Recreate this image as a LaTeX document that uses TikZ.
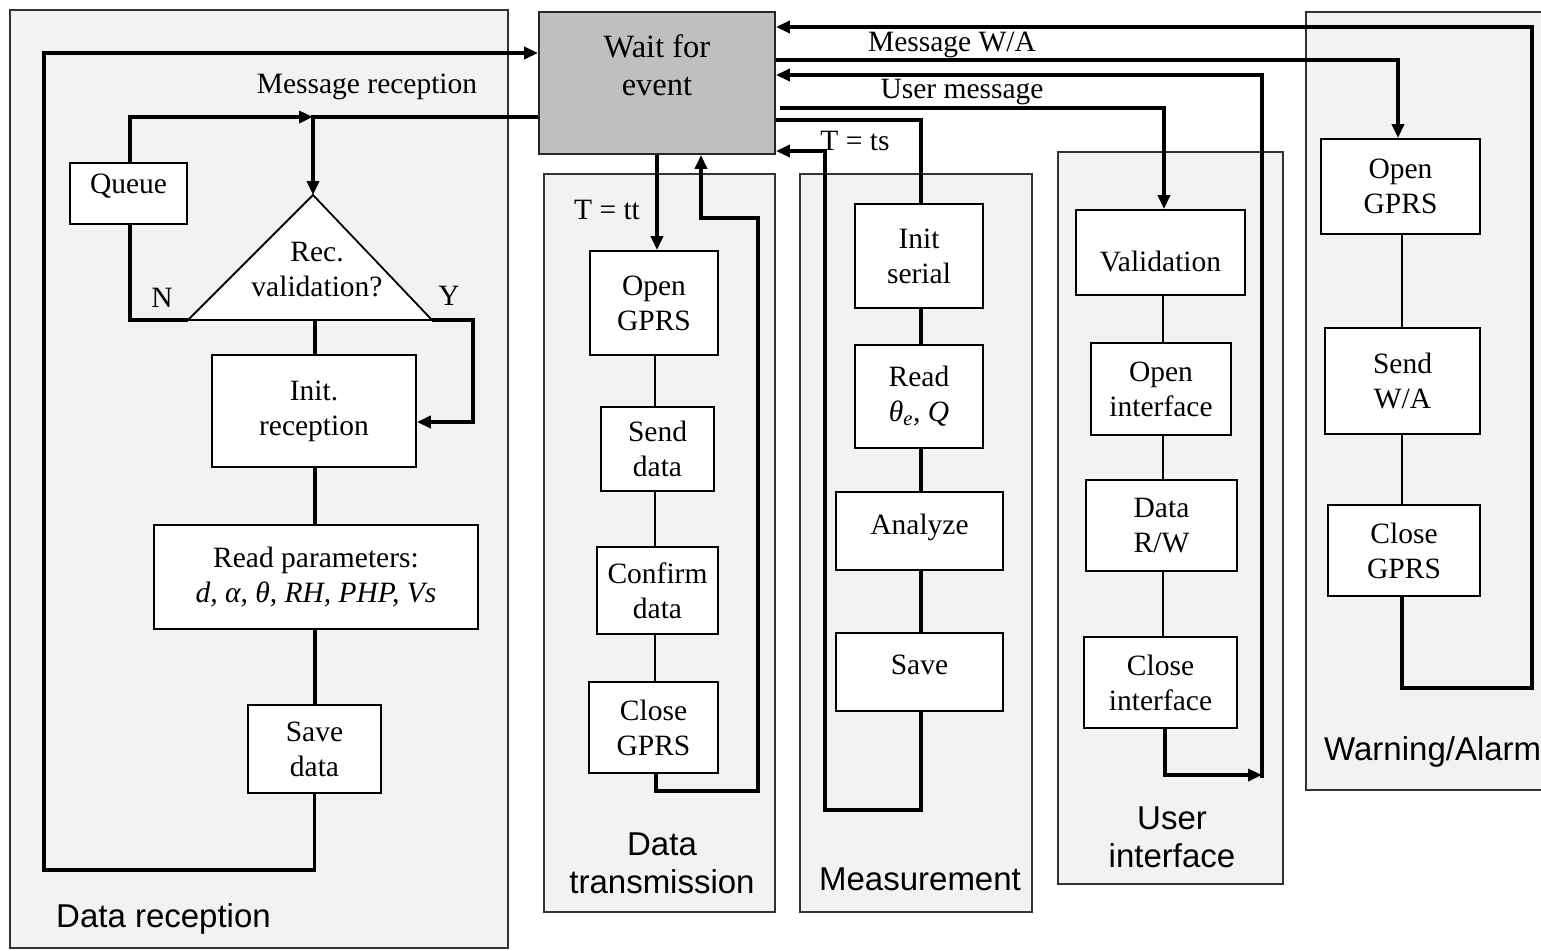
\documentclass[tikz,border=0pt]{standalone}
\usepackage{fontspec}
\setmainfont{Liberation Serif}
\newfontfamily\lsans{Liberation Sans}
\usetikzlibrary{arrows.meta,calc}
\newcommand\serifsz{\fontsize{29.5}{35}\selectfont}
\newcommand\waitsz{\fontsize{32.5}{38}\selectfont}
\newcommand\sanssz{\lsans\fontsize{33}{38}\selectfont}
\newcommand\moveby[2]{\raisebox{#1}[\height][\depth]{#2}}
\tikzset{
  panel/.style={draw=black!80, line width=1.6pt, fill=black!5},
  box/.style={draw=black, line width=1.8pt, fill=white, inner sep=0pt, align=center, font=\serifsz},
  waitbox/.style={draw=black!85, line width=1.8pt, fill=black!25, inner sep=0pt},
  conn/.style={line width=3.5pt},
  tconn/.style={line width=1.8pt},
  arr/.style={-{Triangle[length=14pt,width=12pt]}},
  lbl/.style={font=\serifsz, inner sep=0pt},
  grp/.style={font=\sanssz, align=center, inner sep=0pt}
}
\begin{document}
\begin{tikzpicture}[x=1pt,y=-1pt]
\useasboundingbox[fill=white] (0,0) rectangle (1541,950);
% panels
\draw[panel] (10,10) rectangle (508,948);
\draw[panel] (544,174) rectangle (775,912);
\draw[panel] (800,174) rectangle (1032,912);
\draw[panel] (1058,152) rectangle (1283,884);
\draw[panel] (1306,12) rectangle (1550,790);

% central box
\node[waitbox, minimum width=236pt, minimum height=142pt,
      label={[font=\waitsz, align=center, yshift=18pt]center:Wait for\\event}] (wait) at (657,83) {};

% data reception
\node[box, minimum width=117pt, minimum height=61pt,
      label={[font=\serifsz, yshift=7pt]center:Queue}] (queue) at (128.5,193.5) {};
\coordinate (apex) at (313,195);
\coordinate (bl) at (188,320);
\coordinate (br) at (432,320);
\coordinate (bm) at (315,320);
\draw[fill=white, line width=1.8pt] (apex) -- (bl) -- (br) -- cycle;
\node[lbl, align=center] (rectext) at (317,270) {Rec.\\validation?};
\node[box, minimum width=204pt, minimum height=112pt] (init) at (314,411) {Init.\\reception};
\node[box, minimum width=324pt, minimum height=104pt] (readp) at (316,577) {Read parameters:\\\itshape d, α, θ, RH, PHP, Vs};
\node[box, minimum width=133pt, minimum height=88pt] (saved) at (314.5,749) {Save\\data};

% data transmission
\node[box, minimum width=128pt, minimum height=104pt] (open1) at (654,303) {Open\\GPRS};
\node[box, minimum width=113pt, minimum height=84pt] (send1) at (657.5,449) {Send\\data};
\node[box, minimum width=121pt, minimum height=87pt] (confirm) at (657.5,590.5) {Confirm\\data};
\node[box, minimum width=129pt, minimum height=91pt] (close1) at (653.5,727.5) {Close\\GPRS};

% measurement
\node[box, minimum width=128pt, minimum height=104pt] (initser) at (919,256) {Init\\serial};
\node[box, minimum width=128pt, minimum height=103pt] (readq) at (919,396.5) {Read\\\itshape θ\textsubscript{e}, Q};
\node[box, minimum width=167pt, minimum height=78pt] (analyze) at (919.5,531) {\moveby{4pt}{Analyze}};
\node[box, minimum width=167pt, minimum height=78pt] (save2) at (919.5,672) {\moveby{7pt}{Save}};

% user interface
\node[box, minimum width=169pt, minimum height=85pt] (valid) at (1160.5,252.5) {\moveby{-9pt}{Validation}};
\node[box, minimum width=140pt, minimum height=92pt] (openif) at (1161,389) {Open\\interface};
\node[box, minimum width=151pt, minimum height=91pt] (datarw) at (1161.5,525.5) {Data\\R/W};
\node[box, minimum width=153pt, minimum height=91pt] (closeif) at (1160.5,682.5) {Close\\interface};

% warning / alarm
\node[box, minimum width=159pt, minimum height=95pt] (wopen) at (1400.5,186.5) {Open\\GPRS};
\node[box, minimum width=155pt, minimum height=106pt] (wsend) at (1402.5,381) {Send\\W/A};
\node[box, minimum width=152pt, minimum height=91pt] (wclose) at (1404,550.5) {Close\\GPRS};

% connectors: data reception
\draw[conn, arr] (saved.south) |- (44,870) |- (wait.west |- 0,53);
\draw[conn, arr] (wait.west |- 0,117) -| (apex);
\draw[conn, arr] (queue.north -| 130,0) |- (313,117);
\draw[conn] (queue.south -| 130,0) |- (bl);
\draw[conn] (bm) -- (bm |- init.north);
\draw[conn, arr] (br) -- (473,320) -- (473,422) -- (init.east |- 0,422);
\draw[conn] (init.south -| 315,0) -- (readp.north -| 315,0);
\draw[conn] (readp.south -| 315,0) -- (saved.north -| 315,0);

% data transmission connectors
\draw[conn, arr] (wait.south) -- (wait.south |- open1.north);
\draw[tconn] (open1.south -| 655,0) -- (send1.north -| 655,0);
\draw[tconn] (send1.south -| 655,0) -- (confirm.north -| 655,0);
\draw[tconn] (confirm.south -| 655,0) -- (close1.north -| 655,0);
\draw[conn, arr] (close1.south -| 656,0) |- (758,791) -- (758,218) -| (wait.south -| 701,0);

% measurement connectors
\draw[conn] (wait.east |- 0,120) -| (initser.north -| 921,0);
\draw[conn] (initser.south -| 921,0) -- (readq.north -| 921,0);
\draw[conn] (readq.south -| 921,0) -- (analyze.north -| 921,0);
\draw[conn] (analyze.south -| 921,0) -- (save2.north -| 921,0);
\draw[conn, arr] (save2.south -| 921,0) |- (825,810) |- (wait.east |- 0,151);

% user interface connectors
\draw[conn, arr] (780,108) -| (valid.north -| 1164,0);
\draw[tconn] (valid.south -| 1163,0) -- (openif.north -| 1163,0);
\draw[tconn] (openif.south -| 1163,0) -- (datarw.north -| 1163,0);
\draw[tconn] (datarw.south -| 1163,0) -- (closeif.north -| 1163,0);
\draw[conn, arr] (closeif.south -| 1165,0) |- (1262,775);
\draw[conn, arr] (1262,778) |- (wait.east |- 0,75);

% warning connectors
\draw[conn, arr] (wait.east |- 0,60) -| (wopen.north -| 1398,0);
\draw[tconn] (wopen.south -| 1402,0) -- (wsend.north -| 1402,0);
\draw[tconn] (wsend.south -| 1402,0) -- (wclose.north -| 1402,0);
\draw[conn, arr] (wclose.south -| 1402,0) |- (1532,688) |- (wait.east |- 0,27);

% labels
\node[lbl] (lmr) at (367,87) {Message reception};
\node[lbl] (ln) at (162,298) {N};
\node[lbl] (ly) at (449,296) {Y};
\node[lbl] (ltt) at (607,210) {T = tt};
\node[lbl] (lts) at (855,141) {T = ts};
\node[lbl] (lwa) at (952,45) {Message W/A};
\node[lbl] (lum) at (962,92) {User message};
\node[grp, anchor=west] (gdr) at (56,919) {Data reception};
\node[grp] (gdt) at (662,863) {Data\\transmission};
\node[grp] (gms) at (920,879) {Measurement};
\node[grp] (gui) at (1172,837) {User\\interface};
\node[grp, anchor=west] (gwa) at (1324,752) {Warning/Alarm};
\end{tikzpicture}
\end{document}
